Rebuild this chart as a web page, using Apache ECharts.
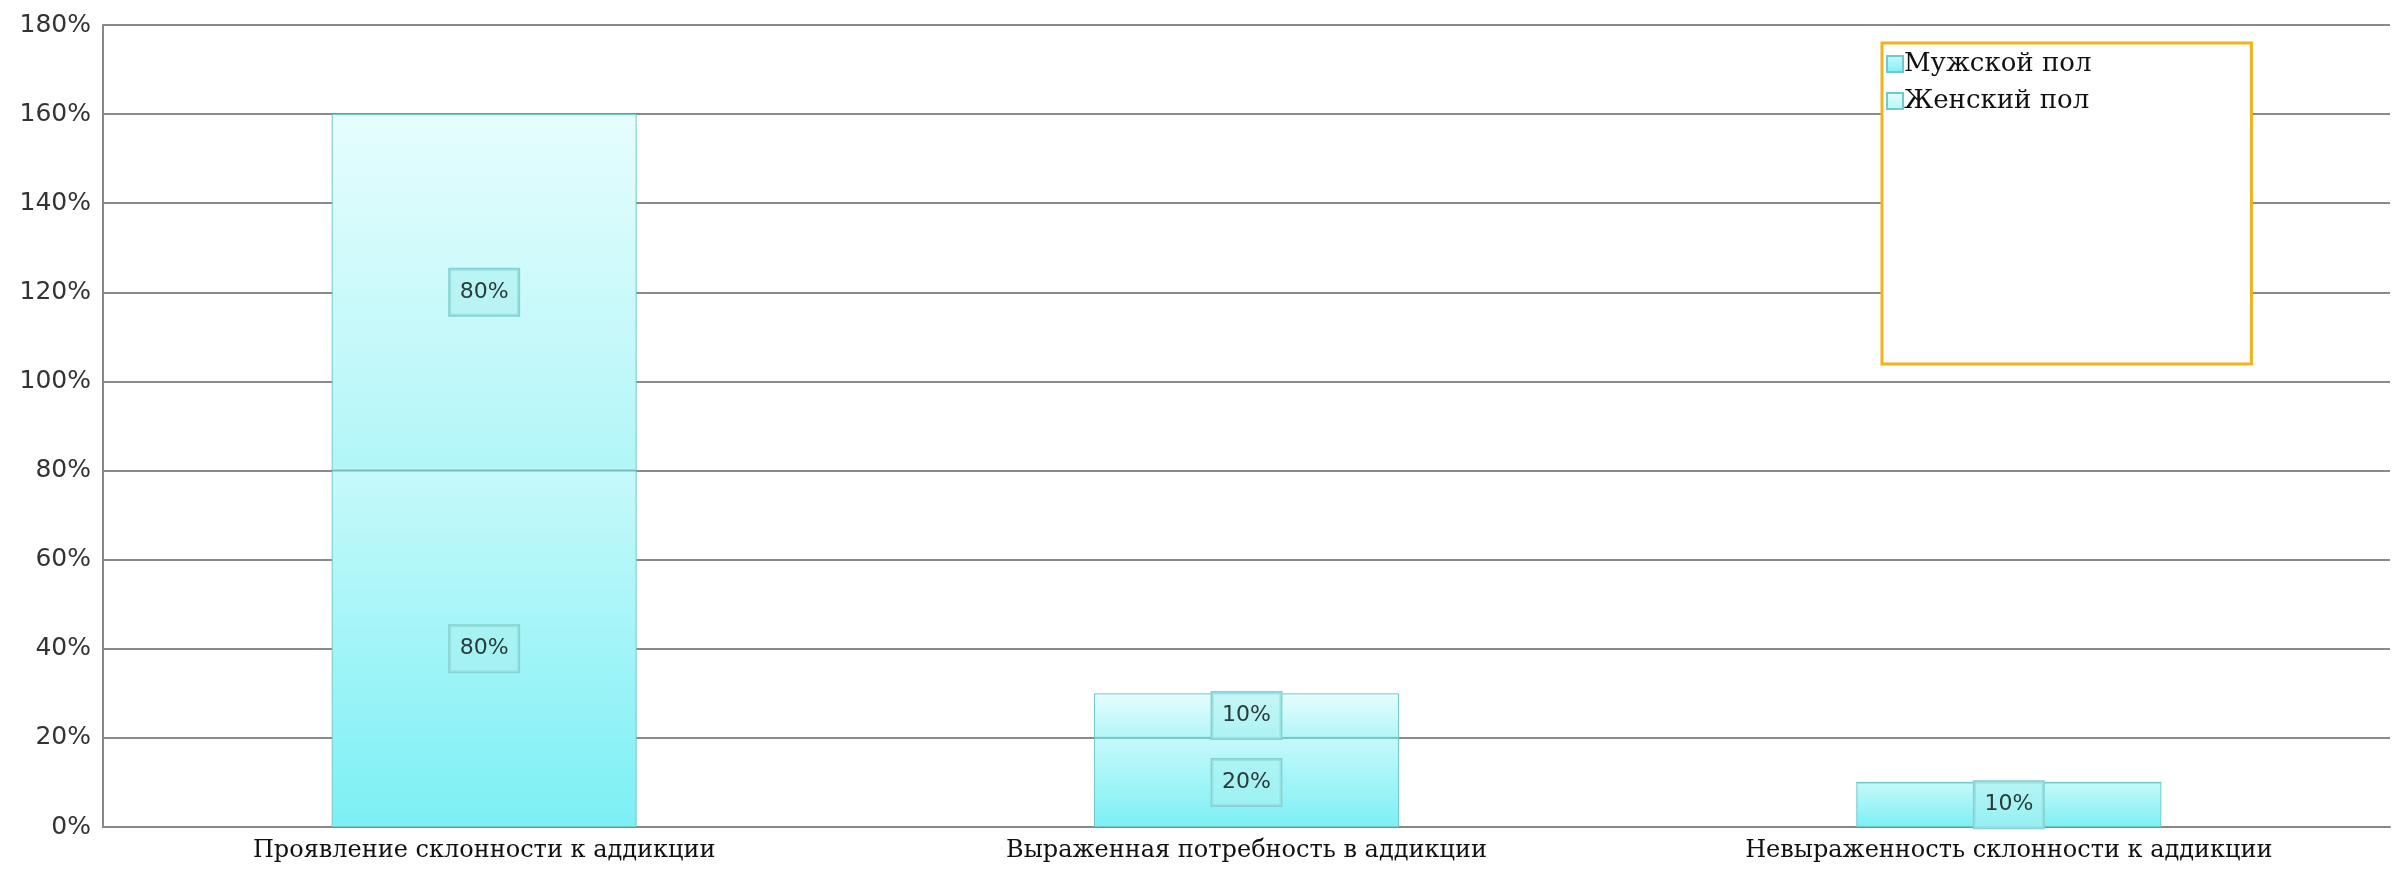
<!DOCTYPE html>
<html>
<head>
<meta charset="utf-8">
<script src="https://cdn.jsdelivr.net/npm/echarts@6/dist/echarts.min.js"></script>
<style>
  html, body { margin: 0; padding: 0; background: #fff; }
  #chart { width: 2394px; height: 878px; }
</style>
</head>
<body>
<div id="chart"></div>
<script>
// данные диаграммы
var categories = [
  'Проявление склонности к аддикции',
  'Выраженная потребность в аддикции',
  'Невыраженность склонности к аддикции'
];
var seriesNames = ['Мужской пол', 'Женский пол'];
var maleValues = [80, 20, 10];
var femaleValues = [80, 10, 0];
var yTicks = [0, 20, 40, 60, 80, 100, 120, 140, 160, 180];

var chart = echarts.init(document.getElementById('chart'));

var barLabel = {
  show: true,
  position: 'inside',
  formatter: '{c}%',
  fontFamily: 'DejaVu Sans',
  fontSize: 22,
  color: '#2b3a3a',
  backgroundColor: 'rgba(170,240,240,0.55)',
  borderColor: '#86d2d2',
  borderWidth: 1.5,
  padding: [13, 10, 11, 10]
};

// нулевые значения без подписи
function toData(arr) {
  return arr.map(function (v) {
    return v ? v : { value: v, label: { show: false } };
  });
}

function grad(top, bottom) {
  return new echarts.graphic.LinearGradient(0, 0, 0, 1, [
    { offset: 0, color: top },
    { offset: 1, color: bottom }
  ]);
}

var option = {
  backgroundColor: '#fff',
  animation: false,
  grid: { left: 103, right: 4, top: 25, bottom: 51 },
  legend: {
    data: seriesNames,
    orient: 'vertical',
    left: 1882,
    top: 43,
    itemWidth: 16,
    itemHeight: 16,
    itemGap: 11,
    icon: 'rect',
    padding: [8, 160, 250, 4],
    borderColor: '#f2b21c',
    borderWidth: 3,
    backgroundColor: '#fff',
    textStyle: { fontFamily: 'DejaVu Serif', fontSize: 26, color: '#111', padding: [0, 0, 0, -4] }
  },
  xAxis: {
    type: 'category',
    data: categories,
    axisLine: { lineStyle: { color: '#888', width: 2 } },
    axisTick: { show: false },
    axisLabel: { fontFamily: 'DejaVu Serif', fontSize: 24, color: '#111', margin: 12 }
  },
  yAxis: {
    type: 'value',
    min: yTicks[0],
    max: yTicks[yTicks.length - 1],
    interval: yTicks[1] - yTicks[0],
    axisLine: { show: true, lineStyle: { color: '#888', width: 2 } },
    axisTick: { show: false },
    splitLine: { lineStyle: { color: '#8a8a8a', width: 2 } },
    axisLabel: {
      formatter: '{value}%',
      fontFamily: 'DejaVu Sans',
      fontSize: 25,
      color: '#333',
      margin: 12
    }
  },
  series: [
    {
      name: seriesNames[0],
      type: 'bar',
      stack: 'total',
      barWidth: '40%',
      data: toData(maleValues),
      itemStyle: { color: grad('#c6f9fa', '#7cf0f5'), borderColor: '#72c9c9', borderWidth: 1 },
      label: barLabel
    },
    {
      name: seriesNames[1],
      type: 'bar',
      stack: 'total',
      barWidth: '40%',
      data: toData(femaleValues),
      itemStyle: { color: grad('#e6fdfd', '#b2f6f8'), borderColor: '#72c9c9', borderWidth: 1 },
      label: barLabel
    }
  ]
};

chart.setOption(option);
</script>
</body>
</html>
